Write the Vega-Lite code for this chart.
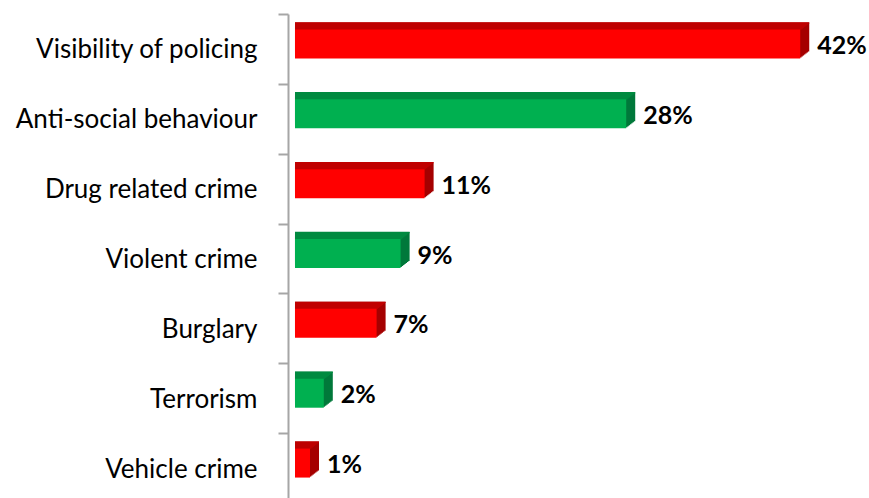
{
  "$schema": "https://vega.github.io/schema/vega-lite/v6.json",
  "width": 581,
  "height": 489,
  "autosize": "none",
  "padding": {"left": 288, "top": 14, "right": 0, "bottom": 0},
  "background": "white",
  "config": {"view": {"stroke": null}},
  "data": {"values": [
    {"cat": "Visibility of policing", "v": 42.1, "lab": "42%", "grp": "r"},
    {"cat": "Anti-social behaviour", "v": 27.6, "lab": "28%", "grp": "g"},
    {"cat": "Drug related crime", "v": 10.8, "lab": "11%", "grp": "r"},
    {"cat": "Violent crime", "v": 8.8, "lab": "9%", "grp": "g"},
    {"cat": "Burglary", "v": 6.8, "lab": "7%", "grp": "r"},
    {"cat": "Terrorism", "v": 2.4, "lab": "2%", "grp": "g"},
    {"cat": "Vehicle crime", "v": 1.25, "lab": "1%", "grp": "r"}
  ]},
  "encoding": {
    "y": {"field": "cat", "type": "nominal", "sort": null,
      "scale": {"paddingInner": 0, "paddingOuter": 0},
      "axis": {"title": null, "domainColor": "#A6A6A6", "domainWidth": 2, "tickColor": "#A6A6A6", "tickWidth": 2, "tickSize": 10, "tickBand": "extent", "labelFont": "Lato", "labelFontSize": 26, "labelColor": "#000000", "labelPadding": 21, "labelLimit": 300, "labelOffset": 1}},
    "x": {"field": "v", "type": "quantitative", "stack": null,
      "scale": {"domain": [-0.583, 47.83], "nice": false, "zero": false},
      "axis": null}
  },
  "layer": [
    {"mark": {"type": "bar", "height": 29, "xOffset": 1.29, "x2Offset": 1.29, "yOffset": -6}, "encoding": {"color": {"condition": {"test": "datum.grp==='r'", "value": "#A50000"}, "value": "#00783A"}}},
    {"mark": {"type": "bar", "height": 29, "xOffset": 2.57, "x2Offset": 2.57, "yOffset": -7}, "encoding": {"color": {"condition": {"test": "datum.grp==='r'", "value": "#A50000"}, "value": "#00783A"}}},
    {"mark": {"type": "bar", "height": 29, "xOffset": 3.86, "x2Offset": 3.86, "yOffset": -8}, "encoding": {"color": {"condition": {"test": "datum.grp==='r'", "value": "#A50000"}, "value": "#00783A"}}},
    {"mark": {"type": "bar", "height": 29, "xOffset": 5.14, "x2Offset": 5.14, "yOffset": -9}, "encoding": {"color": {"condition": {"test": "datum.grp==='r'", "value": "#A50000"}, "value": "#00783A"}}},
    {"mark": {"type": "bar", "height": 29, "xOffset": 6.43, "x2Offset": 6.43, "yOffset": -10}, "encoding": {"color": {"condition": {"test": "datum.grp==='r'", "value": "#A50000"}, "value": "#00783A"}}},
    {"mark": {"type": "bar", "height": 29, "xOffset": 7.71, "x2Offset": 7.71, "yOffset": -11}, "encoding": {"color": {"condition": {"test": "datum.grp==='r'", "value": "#A50000"}, "value": "#00783A"}}},
    {"mark": {"type": "bar", "height": 29, "xOffset": 9, "x2Offset": 9, "yOffset": -12}, "encoding": {"color": {"condition": {"test": "datum.grp==='r'", "value": "#A50000"}, "value": "#00783A"}}},
    {"mark": {"type": "bar", "height": 1.4, "xOffset": 9, "x2Offset": 9, "yOffset": -26}, "encoding": {"color": {"condition": {"test": "datum.grp==='r'", "value": "#C00000"}, "value": "#008A40"}}},
    {"mark": {"type": "bar", "height": 1.4, "xOffset": 7.71, "x2Offset": 7.71, "yOffset": -25}, "encoding": {"color": {"condition": {"test": "datum.grp==='r'", "value": "#C00000"}, "value": "#008A40"}}},
    {"mark": {"type": "bar", "height": 1.4, "xOffset": 6.43, "x2Offset": 6.43, "yOffset": -24}, "encoding": {"color": {"condition": {"test": "datum.grp==='r'", "value": "#C00000"}, "value": "#008A40"}}},
    {"mark": {"type": "bar", "height": 1.4, "xOffset": 5.14, "x2Offset": 5.14, "yOffset": -23}, "encoding": {"color": {"condition": {"test": "datum.grp==='r'", "value": "#C00000"}, "value": "#008A40"}}},
    {"mark": {"type": "bar", "height": 1.4, "xOffset": 3.86, "x2Offset": 3.86, "yOffset": -22}, "encoding": {"color": {"condition": {"test": "datum.grp==='r'", "value": "#C00000"}, "value": "#008A40"}}},
    {"mark": {"type": "bar", "height": 1.4, "xOffset": 2.57, "x2Offset": 2.57, "yOffset": -21}, "encoding": {"color": {"condition": {"test": "datum.grp==='r'", "value": "#C00000"}, "value": "#008A40"}}},
    {"mark": {"type": "bar", "height": 1.4, "xOffset": 1.29, "x2Offset": 1.29, "yOffset": -20}, "encoding": {"color": {"condition": {"test": "datum.grp==='r'", "value": "#C00000"}, "value": "#008A40"}}},
    {"mark": {"type": "bar", "height": 29, "yOffset": -5}, "encoding": {"color": {"condition": {"test": "datum.grp==='r'", "value": "#FF0000"}, "value": "#00B050"}}},
    {"mark": {"type": "text", "align": "left", "baseline": "middle", "dx": 17, "dy": -3, "font": "Lato", "fontSize": 25, "fontWeight": "bold", "color": "#000000"}, "encoding": {"text": {"field": "lab"}}}
  ]
}
